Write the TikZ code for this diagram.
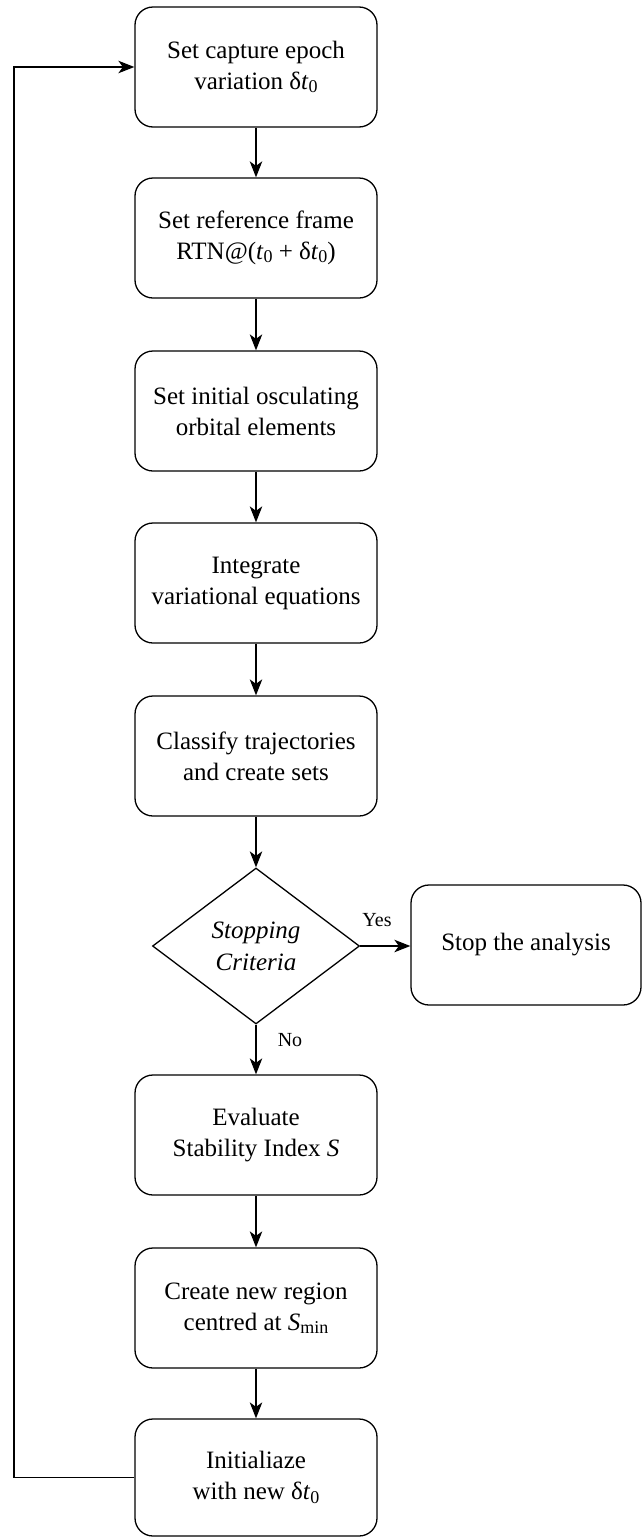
\documentclass[tikz,border=0pt]{standalone}
\usepackage{fontspec}
\setmainfont{Liberation Serif}
\usetikzlibrary{arrows.meta,shapes.geometric}
\tikzset{
  stepbox/.style={draw, line width=1.3pt, rounded corners=18pt, minimum width=242pt,
    minimum height=120pt, align=center, inner sep=0pt, font=\fontsize{25}{31}\selectfont},
  stopbox/.style={stepbox, minimum width=230pt},
  decision/.style={draw, line width=1.3pt, diamond, minimum width=207pt, minimum height=156pt,
    inner sep=0pt, align=center, font=\fontsize{25}{32}\selectfont\itshape},
  flow/.style={line width=1.4pt, -{Stealth[length=16pt,width=12.5pt,inset=4.5pt]}},
  lbl/.style={font=\fontsize{20}{24}\selectfont, inner sep=0pt}
}
\newcommand{\mysub}[1]{\raisebox{-0.28ex}{\fontsize{18}{18}\selectfont #1}}
\newcommand{\dt}{δ\textit{t}\mysub{0}}
\begin{document}
\begin{tikzpicture}[x=1pt,y=-1pt]
\useasboundingbox[fill=white] (0,0) rectangle (642,1537);
\node[stepbox] (b1) at (256,67) {Set capture epoch\\variation \dt};
\node[stepbox] (b2) at (256,238) {Set reference frame\\RTN@(\textit{t}\mysub{0} + \dt)};
\node[stepbox] (b3) at (256,411) {Set initial osculating\\orbital elements};
\node[stepbox] (b4) at (256,583) {Integrate\\variational equations};
\node[stepbox] (b5) at (256,756) {Classify trajectories\\and create sets};
\node[decision] (d) at (256,946) {Stopping\\Criteria};
\node[stopbox] (stop) at (526,945) {Stop the analysis};
\node[stepbox] (b7) at (256,1135) {Evaluate\\Stability Index \textit{S}};
\node[stepbox] (b8) at (256,1308) {Create new region\\centred at \textit{S}\mysub{min}};
\node[stepbox, minimum height=117pt] (b9) at (256,1477.5) {Initialiaze\\with new \dt};
\coordinate (fb) at (14,1477.5);
\draw[flow] (b1) -- (b2);
\draw[flow] (b2) -- (b3);
\draw[flow] (b3) -- (b4);
\draw[flow] (b4) -- (b5);
\draw[flow] (b5) -- (d);
\draw[flow] (d.east) -- (d.east -| stop.west);
\draw[flow] (d) -- (b7);
\draw[flow] (b7) -- (b8);
\draw[flow] (b8) -- (b9);
\draw[flow] (b9.west) -- (fb) |- (b1.west);
\node[lbl] (yes) at (377,920) {Yes};
\node[lbl] (no) at (290,1040) {No};
\end{tikzpicture}
\end{document}
